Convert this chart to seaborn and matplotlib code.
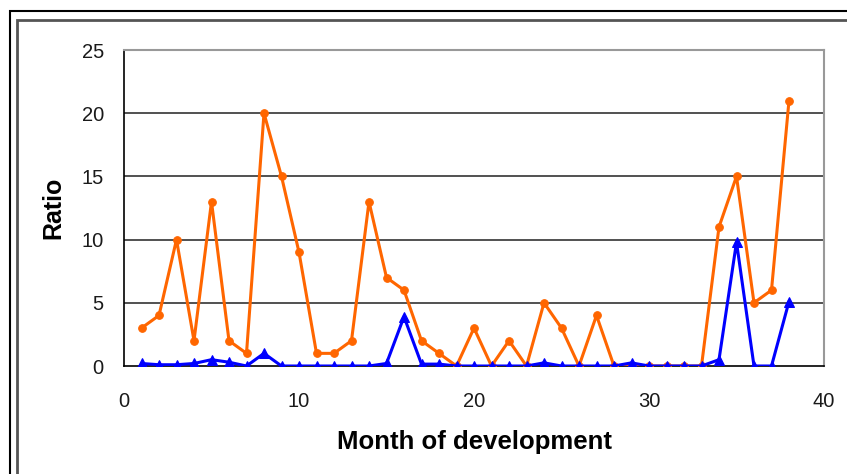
import numpy as np
import pandas as pd
import matplotlib
matplotlib.use('Agg')
import matplotlib.pyplot as plt
from matplotlib.patches import Rectangle
import seaborn as sns

# data
month = list(range(1, 39))
ratio_orange = [3, 4, 10, 2, 13, 2, 1, 20, 15, 9,
                1, 1, 2, 13, 7, 6, 2, 1, 0, 3,
                0, 2, 0, 5, 3, 0, 4, 0, 0, 0,
                0, 0, 0, 11, 15, 5, 6, 21]
ratio_blue = [0.2, 0.1, 0.1, 0.2, 0.5, 0.3, 0, 1.0, 0, 0,
              0, 0, 0, 0, 0.2, 3.9, 0.15, 0.15, 0, 0,
              0, 0, 0, 0.25, 0, 0, 0, 0, 0.25, 0,
              0, 0, 0, 0.5, 9.8, 0, 0, 5.1]
x_ticks = [0, 10, 20, 30, 40]
y_ticks = [0, 5, 10, 15, 20, 25]

df_o = pd.DataFrame({'month': month, 'ratio': ratio_orange})
df_b = pd.DataFrame({'month': month, 'ratio': ratio_blue})

sns.set_style('white')
plt.rcParams['font.family'] = ['Liberation Sans', 'DejaVu Sans']

fig = plt.figure(figsize=(8.47, 4.74), dpi=100)
fig.patch.set_facecolor('white')
ax = fig.add_axes([124/847, 1-366/474, 700/847, 316/474])

sns.lineplot(data=df_b, x='month', y='ratio', ax=ax, color='#0000FF', lw=2.2,
             marker='^', markersize=6.5, markeredgecolor='#0000FF', zorder=4)
sns.lineplot(data=df_o, x='month', y='ratio', ax=ax, color='#FF6600', lw=2.2,
             marker='o', markersize=5.5, markeredgecolor='#FF6600', zorder=3)

ax.set_xlim(0, 40)
ax.set_ylim(0, 25)
ax.set_xticks(x_ticks)
ax.set_yticks(y_ticks)
for y in y_ticks[1:-1]:
    ax.axhline(y, color='#333333', lw=1.2, zorder=1)

for s in ['top', 'right']:
    ax.spines[s].set_color('#999999')
    ax.spines[s].set_linewidth(1.5)
for s in ['left', 'bottom']:
    ax.spines[s].set_color('black')
    ax.spines[s].set_linewidth(1.2)
ax.tick_params(axis='both', direction='out', length=6.5, width=1.2, color='black',
               labelsize=14.5, labelcolor='#1a1a1a')
ax.tick_params(axis='x', pad=12)
ax.tick_params(axis='y', pad=8)

ax.set_xlabel('Month of development', fontsize=18.5, fontweight='bold',
              labelpad=14, color='black')
ax.set_ylabel('Ratio', fontsize=18, fontweight='bold', labelpad=12, color='black')

# chart frames (screenshot borders)
fig.patches.append(Rectangle((10/847, -0.1), 1.2, 1 - 11/474 + 0.1,
                             transform=fig.transFigure, fill=False,
                             edgecolor='black', lw=1.5))
fig.patches.append(Rectangle((16.5/847, -0.1), 1.2, 1 - 20/474 + 0.1,
                             transform=fig.transFigure, fill=False,
                             edgecolor='#555555', lw=2))

fig.savefig('out.png', dpi=100)
